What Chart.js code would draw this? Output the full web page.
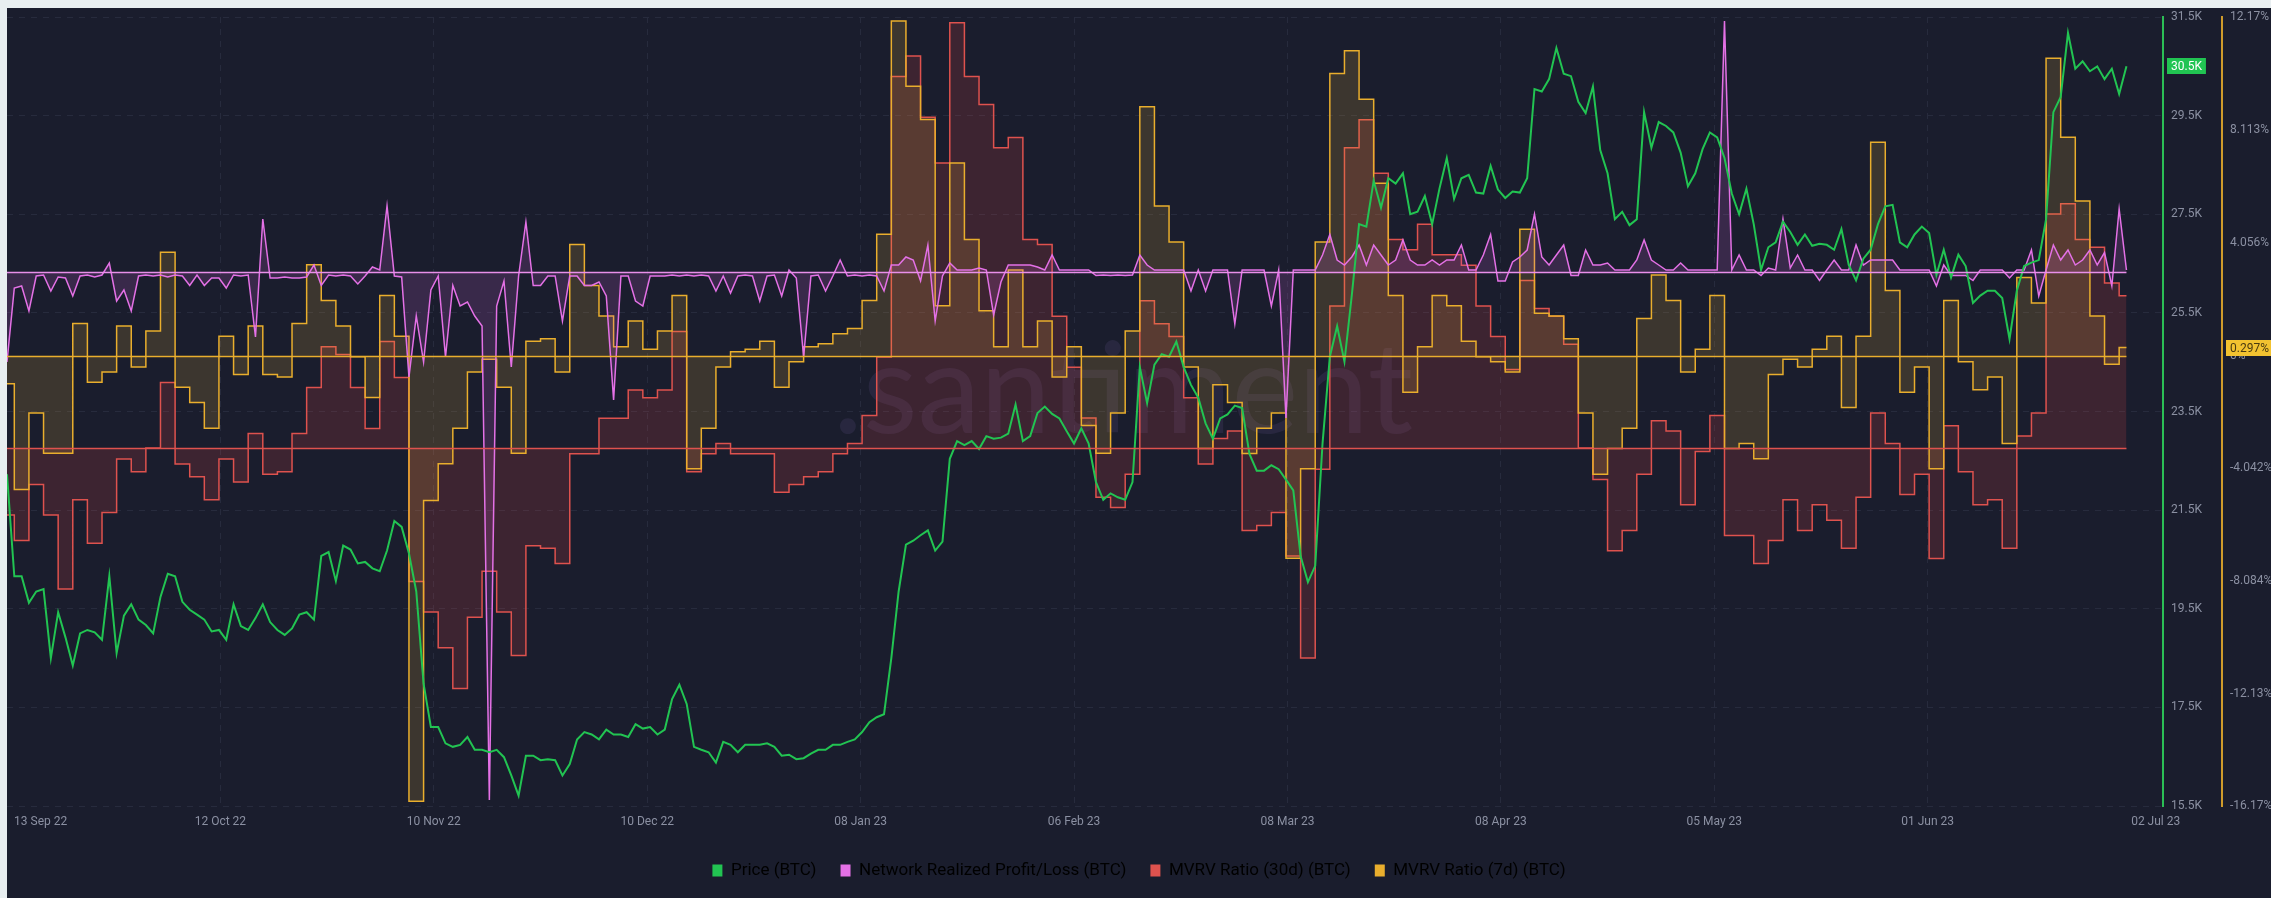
<!DOCTYPE html>
<html>
<head>
<meta charset="utf-8">
<script src="https://cdn.jsdelivr.net/npm/chart.js@4.4.0/dist/chart.umd.min.js"></script>
<style>
  html, body { margin: 0; padding: 0; background: #e8eef0; }
  body { width: 2271px; height: 898px; overflow: hidden; position: relative; }
  #frame { position: absolute; left: 7px; top: 8px; right: 0; bottom: 0; background: #1a1d2d; }
  #chart { position: absolute; left: 0; top: 0; }
</style>
</head>
<body>
<div id="frame"></div>
<canvas id="chart" width="2271" height="898"></canvas>
<script>
// x axis counts days from 13 Sep 22
const tickLabels = ['13 Sep 22', '12 Oct 22', '10 Nov 22', '10 Dec 22', '08 Jan 23', '06 Feb 23',
  '08 Mar 23', '08 Apr 23', '05 May 23', '01 Jun 23', '02 Jul 23']
const tickDays = [4.6, 29.2, 58.4, 87.6, 116.8, 146, 175.2, 204.4, 233.6, 262.8, 294]

const priceTicks = [15.5, 17.5, 19.5, 21.5, 23.5, 25.5, 27.5, 29.5, 31.5]
const mvrv7Ticks = [-16.17, -12.13, -8.084, -4.042, 0, 4.056, 8.113, 12.17]

// price, K USD, daily
const price = [
  22.23, 20.16, 20.16, 19.62, 19.85, 19.9, 18.5, 19.43, 18.92, 18.35,
  19.0, 19.07, 19.02, 18.87, 20.16, 18.6, 19.36, 19.59, 19.28, 19.17,
  19.0, 19.74, 20.21, 20.16, 19.64, 19.48, 19.38, 19.28, 19.04, 19.07,
  18.87, 19.59, 19.15, 19.07, 19.31, 19.59, 19.23, 19.07, 18.97, 19.1,
  19.38, 19.43, 19.28, 20.57, 20.65, 20.06, 20.78, 20.7, 20.42, 20.45,
  20.32, 20.26, 20.68, 21.28, 21.16, 20.62, 19.85, 17.98, 17.1, 17.1,
  16.77, 16.7, 16.74, 16.9, 16.64, 16.64, 16.59, 16.64, 16.49, 16.12,
  15.71, 16.52, 16.52, 16.43, 16.45, 16.43, 16.12, 16.35, 16.85, 17.0,
  16.95, 16.85, 17.05, 16.95, 16.95, 16.9, 17.16, 17.07, 17.1, 16.95,
  17.05, 17.67, 17.96, 17.57, 16.7, 16.64, 16.59, 16.38, 16.8, 16.74,
  16.59, 16.74, 16.74, 16.74, 16.77, 16.7, 16.52, 16.54, 16.45, 16.47,
  16.56, 16.64, 16.64, 16.74, 16.74, 16.8, 16.85, 17.0, 17.2, 17.3,
  17.36, 18.5, 19.85, 20.8, 20.88, 20.99, 21.09, 20.68, 20.86, 22.54,
  22.9, 22.82, 22.9, 22.74, 23.0, 22.95, 22.97, 23.05, 23.64, 22.9,
  23.0, 23.47, 23.6, 23.45, 23.36, 23.1, 22.85, 23.16, 22.85, 22.07,
  21.71, 21.84, 21.76, 21.71, 22.07, 24.4, 23.67, 24.45, 24.66, 24.61,
  24.92, 24.4, 24.04, 23.78, 23.26, 22.95, 23.36, 23.44, 23.62, 23.57,
  22.64, 22.3, 22.3, 22.41, 22.33, 22.12, 21.9, 20.57, 20.04, 20.37,
  22.85, 24.61, 25.23, 24.51, 25.85, 27.3, 27.25, 28.18, 27.63, 28.23,
  28.12, 28.33, 27.5, 27.55, 27.87, 27.3, 28.02, 28.64, 27.81, 28.23,
  28.3, 27.94, 27.92, 28.48, 28.0, 27.83, 27.96, 27.94, 28.23, 30.04,
  29.99, 30.24, 30.87, 30.35, 30.3, 29.78, 29.55, 30.09, 28.8, 28.33,
  27.4, 27.55, 27.28, 27.4, 29.57, 28.85, 29.37, 29.29, 29.16, 28.75,
  28.07, 28.33, 28.82, 29.16, 29.06, 28.64, 27.92, 27.5, 28.02, 27.3,
  26.37, 26.83, 26.93, 27.35, 27.14, 26.88, 27.09, 26.86, 26.9, 26.88,
  26.78, 27.2, 26.47, 26.16, 26.6, 26.78, 27.3, 27.66, 27.69, 26.93,
  26.83, 27.09, 27.25, 27.12, 26.27, 26.78, 26.22, 26.68, 26.45, 25.7,
  25.85, 25.95, 25.95, 25.8, 24.97, 25.95, 26.45, 26.52, 26.57, 27.4,
  29.57, 29.88, 31.18, 30.45, 30.6, 30.4, 30.5, 30.24, 30.45, 29.94,
  30.5
]

// network realized profit/loss, K BTC, daily
const npl = [
  -9.0, -1.6, -1.4, -3.9, -0.4, -0.3, -1.9, -0.5, -0.6, -2.4,
  -0.4, -0.3, -0.5, -0.3, 0.9, -2.9, -1.8, -3.9, -0.4, -0.3,
  -0.4, -0.3, -0.5, -0.3, -0.4, -1.35, -0.3, -1.35, -0.6, -0.6,
  -1.6, -0.3, -0.4, -0.3, -6.5, 5.3, -0.6, -0.6, -0.5, -0.6,
  -0.6, -0.5, 0.7, -1.35, -0.3, -0.4, -0.3, -0.4, -1.2, -0.4,
  0.5, 0.2, 6.6, -0.4, -0.5, -10.5, -4.4, -9.0, -1.8, -0.4,
  -8.5, -1.35, -3.4, -3.0, -4.4, -5.4, -52.8, -3.4, -0.9, -9.5,
  -0.4, 5.0, -1.35, -1.35, -0.4, -0.4, -4.9, -0.4, -0.4, -1.35,
  -1.35, -1.0, -2.4, -12.8, -0.4, -0.4, -2.9, -3.4, -0.4, -0.4,
  -0.4, -0.3, -0.4, -0.3, -0.4, -0.3, -0.4, -1.9, -0.4, -2.1,
  -0.4, -0.3, -0.4, -2.9, -0.4, -0.3, -2.4, 0.2, -0.6, -8.5,
  -0.4, -0.3, -1.9, -0.4, 1.2, -0.4, -0.3, -0.4, -0.3, -0.4,
  -1.9, 0.7, 0.7, 1.5, 1.2, -0.9, 2.7, -4.9, -0.4, 0.9,
  0.2, 0.2, 0.2, 0.4, 0.2, -4.3, -1.0, 0.7, 0.7, 0.7,
  0.7, 0.5, 0.2, 1.7, 0.2, 0.2, 0.2, 0.2, 0.2, -0.35,
  -0.3, -0.35, -0.3, -0.35, -0.3, 1.7, 0.7, 0.2, 0.2, 0.2,
  0.2, 0.2, -1.9, 0.2, -1.9, 0.2, 0.2, 0.2, -5.2, 0.2,
  0.2, 0.2, 0.2, -3.4, 0.2, -14.6, 0.2, 0.2, 0.2, 0.2,
  1.7, 3.75, 1.2, 0.7, 1.5, 2.7, 0.7, 2.7, 1.7, 0.7,
  1.2, 3.2, 1.2, 0.7, 0.7, 1.2, 0.7, 1.2, 1.2, 2.7,
  0.2, 0.2, 1.7, 3.75, -0.9, -0.9, 1.0, 1.5, 2.2, 5.8,
  1.5, 0.7, 1.7, 2.7, -0.35, -0.35, 2.2, 0.7, 0.7, 0.9,
  0.2, 0.2, 0.2, 1.2, 3.2, 1.2, 0.7, 0.2, 0.2, 0.9,
  0.2, 0.2, 0.2, 0.2, 0.2, 25.1, 0.2, 1.7, 0.2, 0.2,
  -0.35, 0.4, 0.2, 5.3, 0.4, 1.7, 0.2, 0.2, -0.85, 0.2,
  1.2, 0.2, 0.2, 2.7, 0.7, 1.2, 1.2, 1.2, 1.2, 0.2,
  0.2, 0.2, 0.2, 0.2, -1.4, 0.7, -0.35, -0.35, -0.35, -0.85,
  0.2, 0.2, 0.2, 0.2, -0.6, 0.2, 0.2, 2.2, -2.4, 0.2,
  2.7, 1.2, 2.2, 0.7, 1.2, 2.2, 0.7, 1.95, -1.4, 6.3,
  0.2
]

// MVRV 30d, %, every 2 days
const mvrv30 = [
  -3.35, -4.63, -1.82, -3.35, -7.05, -2.59, -4.76, -3.23, -0.55, -1.19,
  0.0, 3.28, -0.8, -1.44, -2.59, -0.55, -1.7, 0.73, -1.31, -1.19,
  0.73, 3.02, 5.06, 4.68, 3.02, 0.98, 5.32, 3.53, -6.67, -8.2,
  -9.99, -12.03, -8.46, -6.16, -8.2, -10.37, -4.89, -5.01, -5.78, -0.29,
  -0.29, 1.49, 1.49, 2.9, 2.51, 2.9, 5.83, -1.19, -0.29, 0.22,
  -0.29, -0.29, -0.29, -2.21, -1.82, -1.44, -1.19, -0.29, 0.22, 1.62,
  4.55, 18.58, 19.6, 16.54, 14.25, 21.26, 18.58, 17.18, 15.01, 15.52,
  10.42, 10.17, 6.59, 4.04, 1.5, -2.46, -2.97, -1.31, 7.36, 6.21,
  5.57, 2.51, -0.8, 0.47, 0.85, -4.12, -3.87, -3.23, -5.4, -10.5,
  -1.06, 7.1, 15.01, 16.41, 13.74, 10.42, 9.91, 11.19, 9.66, 9.66,
  9.14, 7.1, 5.57, 3.92, 8.38, 6.98, 6.59, 5.19, 0.0, -1.57,
  -5.14, -4.12, -1.31, 1.36, 0.85, -2.84, -0.17, 1.62, -4.37, -4.37,
  -5.78, -4.63, -2.59, -4.12, -2.84, -3.61, -5.01, -2.46, 1.75, 0.22,
  -2.33, -1.31, -5.52, 1.11, -1.19, -2.84, -2.59, -5.01, 0.6, 1.75,
  11.7, 12.21, 10.42, 10.04, 8.25, 7.61
]

// MVRV 7d, %, every 2 days
const mvrv7 = [
  -1.0, -4.8, -2.05, -3.5, -3.5, 1.16, -0.95, -0.58, 1.07, -0.4,
  0.89, 3.72, -1.13, -1.68, -2.6, 0.7, -0.67, 1.07, -0.67, -0.76,
  1.16, 3.27, 1.99, 1.07, -0.03, -1.5, 2.17, 0.7, -16.0, -5.2,
  -3.88, -2.6, -0.58, -0.12, -1.13, -3.5, 0.52, 0.61, -0.58, 4.0,
  2.53, 1.43, 0.33, 1.25, 0.24, 0.89, 2.17, -4.06, -2.6, -0.4,
  0.15, 0.24, 0.52, -1.13, -0.21, 0.33, 0.43, 0.79, 0.98, 1.99,
  4.37, 12.03, 9.68, 8.49, 1.8, 6.93, 4.18, 1.62, 0.33, 3.08,
  0.33, 1.25, -0.76, 0.33, -2.5, -3.5, -2.05, 0.89, 8.95, 5.38,
  4.09, -0.4, -3.33, -1.04, -1.68, -3.51, -2.6, -2.05, -7.27, -4.06,
  4.09, 10.14, 10.96, 9.22, 6.2, 2.17, -1.31, 0.33, 2.17, 1.8,
  0.52, -0.03, -0.21, -0.58, 4.55, 1.53, 1.43, 0.61, -2.05, -4.25,
  -3.33, -2.6, 1.34, 2.9, 1.99, -0.58, 0.24, 2.17, -3.33, -3.15,
  -3.7, -0.67, -0.12, -0.4, 0.24, 0.7, -1.86, 0.7, 7.67, 2.35,
  -1.31, -0.4, -4.06, 1.99, -0.21, -1.22, -0.76, -3.15, 2.81, 1.9,
  10.69, 7.85, 5.56, 1.43, -0.3, 0.297
]

Chart.defaults.font.family = 'Roboto, "Noto Sans", sans-serif'
Chart.defaults.color = '#8b90a2'

const everyTwoDays = (arr) => arr.map((y, i) => ({x: i * 2, y}))
const daily = (arr) => arr.map((y, i) => ({x: i, y}))
const gridColor = '#272b3d'

// faint logo behind the lines
const watermark = {
  id: 'watermark',
  beforeDatasetsDraw(chart){
    const ctx = chart.ctx
    ctx.save()
    ctx.font = '100px Lato'
    const w = ctx.measureText('.santiment').width
    ctx.font = (100 * 580 / w).toFixed(1) + 'px Lato'
    ctx.fillStyle = 'rgba(125,105,175,0.14)'
    ctx.textAlign = 'center'
    ctx.textBaseline = 'alphabetic'
    ctx.fillText('.santiment', 1123, 433)
    ctx.restore()
  }
}

// zero lines of the filled series
const baselines = {
  id: 'baselines',
  afterDatasetsDraw(chart){
    const {ctx, scales} = chart
    chart.data.datasets.forEach((ds) => {
      if(!ds.fill) return
      const n = ds.data.length
      const x0 = scales.x.getPixelForValue(ds.data[0].x)
      const x1 = scales.x.getPixelForValue(ds.data[n-1].x)
      const y = Math.round(scales[ds.yAxisID].getPixelForValue(0)) + 0.5
      ctx.save()
      ctx.strokeStyle = ds.zeroColor || ds.borderColor
      ctx.lineWidth = 1.5
      ctx.beginPath()
      ctx.moveTo(x0, y)
      ctx.lineTo(x1, y)
      ctx.stroke()
      ctx.restore()
    })
  }
}

function badge(ctx, x, y, text, bg, fg){
  ctx.save()
  ctx.font = '12px Roboto'
  const w = ctx.measureText(text).width + 8
  ctx.fillStyle = bg
  ctx.fillRect(x, Math.round(y - 8), w, 16)
  ctx.fillStyle = fg
  ctx.textBaseline = 'middle'
  ctx.fillText(text, x + 4, y + 1)
  ctx.restore()
}

// last value markers on the two visible axes
const lastValues = {
  id: 'lastValues',
  afterDraw(chart){
    const {ctx, scales} = chart
    const p = price[price.length-1]
    const m = mvrv7[mvrv7.length-1]
    badge(ctx, scales.yPrice.left + 4, scales.yPrice.getPixelForValue(p), p.toFixed(1) + 'K', '#21c452', '#ffffff')
    badge(ctx, scales.y7.left + 4, scales.y7.getPixelForValue(m), m + '%', '#f2c230', '#4a3a10')
  }
}

const chart = new Chart(document.querySelector('#chart'), {
  type: 'line',
  plugins: [watermark, baselines, lastValues],
  data: {
    datasets: [
      {
        label: 'Price (BTC)',
        data: daily(price),
        yAxisID: 'yPrice',
        borderColor: '#22c452',
        borderWidth: 2,
        fill: false,
        order: 0,
      },
      {
        label: 'Network Realized Profit/Loss (BTC)',
        data: daily(npl),
        yAxisID: 'yNpl',
        borderColor: '#e471e6',
        zeroColor: '#e88fe9',
        backgroundColor: 'rgba(215,100,220,0.17)',
        borderWidth: 1.5,
        fill: 'origin',
        order: 1,
      },
      {
        label: 'MVRV Ratio (30d) (BTC)',
        data: everyTwoDays(mvrv30),
        yAxisID: 'y30',
        borderColor: '#de524e',
        backgroundColor: 'rgba(220,70,70,0.18)',
        borderWidth: 1.5,
        fill: 'origin',
        stepped: 'middle',
        order: 3,
      },
      {
        label: 'MVRV Ratio (7d) (BTC)',
        data: everyTwoDays(mvrv7),
        yAxisID: 'y7',
        borderColor: '#e9ae2d',
        backgroundColor: 'rgba(230,180,60,0.17)',
        borderWidth: 1.5,
        fill: 'origin',
        stepped: 'middle',
        order: 2,
      },
    ]
  },
  options: {
    responsive: false,
    animation: false,
    layout: {
      padding: {left: 7, top: 17, right: 0, bottom: 9}
    },
    elements: {
      point: {radius: 0},
      line: {tension: 0},
    },
    scales: {
      x: {
        type: 'linear',
        min: 0,
        max: 295,
        afterBuildTicks: (s) => { s.ticks = tickDays.map((v) => ({value: v})) },
        afterFit: (s) => { s.height = 32 },
        ticks: {
          autoSkip: false,
          maxRotation: 0,
          padding: 9,
          font: {size: 12},
          color: '#8b90a2',
          callback: (v, i) => tickLabels[i],
        },
        grid: {
          color: (c) => (c.index === 0 || c.index === tickDays.length-1) ? 'rgba(0,0,0,0)' : gridColor,
          drawTicks: false,
        },
        border: {display: false, dash: [6, 6]},
      },
      yPrice: {
        position: 'right',
        weight: 0,
        min: 15.5,
        max: 31.5,
        afterBuildTicks: (s) => { s.ticks = priceTicks.map((v) => ({value: v})) },
        afterFit: (s) => { s.width = 59 },
        ticks: {
          padding: 8,
          font: {size: 12},
          color: '#8b90a2',
          callback: (v) => v.toFixed(1) + 'K',
        },
        grid: {color: gridColor, drawTicks: false},
        border: {display: true, color: '#2bbf55', width: 2, dash: [6, 6]},
      },
      y7: {
        position: 'right',
        weight: 1,
        min: -16.17,
        max: 12.17,
        afterBuildTicks: (s) => { s.ticks = mvrv7Ticks.map((v) => ({value: v})) },
        afterFit: (s) => { s.width = 49 },
        ticks: {
          padding: 8,
          font: {size: 12},
          color: '#8b90a2',
          callback: (v) => v + '%',
        },
        grid: {display: false, drawTicks: false},
        border: {display: true, color: '#cf9b2b', width: 2},
      },
      y30: {
        display: false,
        min: -17.9,
        max: 21.55,
      },
      yNpl: {
        display: false,
        min: -53.4,
        max: 25.5,
      },
    },
    plugins: {
      legend: {
        position: 'bottom',
        labels: {
          boxWidth: 10,
          boxHeight: 12,
          padding: 24,
          color: '#c7cad4',
          font: {size: 17},
          generateLabels: (chart) => chart.data.datasets.map((ds, i) => ({
            text: ds.label,
            fillStyle: ds.borderColor,
            strokeStyle: ds.borderColor,
            lineWidth: 0,
            hidden: false,
            datasetIndex: i,
          })),
        },
      },
      tooltip: {enabled: false},
    },
  },
})
</script>
</body>
</html>
